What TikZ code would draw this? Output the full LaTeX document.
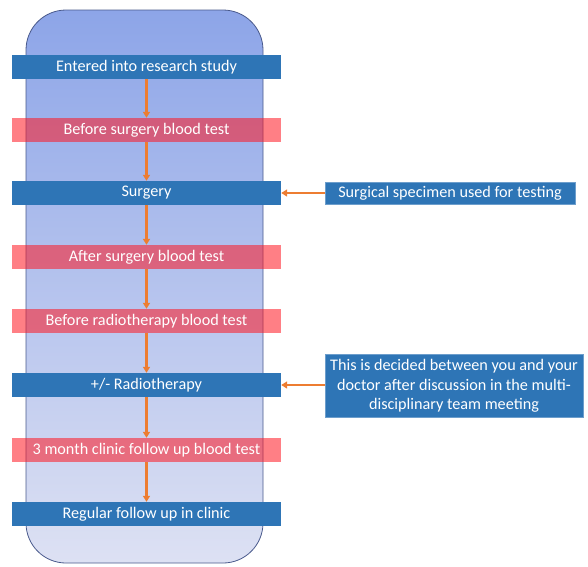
\documentclass[tikz,border=0pt]{standalone}
\usepackage{fontspec}
\setmainfont{Carlito}
\usetikzlibrary{arrows.meta, positioning}
\definecolor{stepblue}{HTML}{2E75B6}
\definecolor{testpink}{HTML}{FF1621}
\definecolor{flowarrow}{HTML}{ED7D31}
\definecolor{pathtop}{HTML}{8DA5E8}
\definecolor{pathbottom}{HTML}{DDE1F3}
\definecolor{pathedge}{HTML}{4A5A8C}

\tikzset{
    stagebox/.style={fill=stepblue, text=white, minimum width=269pt, minimum height=24pt, inner sep=0pt, font=\fontsize{16.2}{18}\selectfont},
    testbox/.style={stagebox, fill=testpink, fill opacity=0.55, text opacity=1},
    notebox/.style={fill=stepblue, text=white, draw=stepblue!70!white, line width=0.6pt, inner sep=1pt, align=center, font=\fontsize{16.2}{18}\selectfont},
    flow/.style={flowarrow, line width=2.2pt, -{Triangle[width=7pt,length=6pt]}}
}

\begin{document}
\begin{tikzpicture}[x=1pt, y=-1pt]
    \useasboundingbox (0,0) rectangle (588,566);
    % patient pathway background
    \draw[pathedge, line width=0.8pt, rounded corners=40pt, top color=pathtop, bottom color=pathbottom] (26,10) rectangle (263,563);
    % stages
    \node[stagebox] (entry) at (146.5,67) {Entered into research study};
    \node[testbox] (pretest) at (146.5,130) {Before surgery blood test};
    \node[stagebox] (surgery) at (146.5,193) {Surgery};
    \node[testbox] (posttest) at (146.5,257) {After surgery blood test};
    \node[testbox] (rttest) at (146.5,321) {Before radiotherapy blood test};
    \node[stagebox] (radio) at (146.5,385) {+/- Radiotherapy};
    \node[testbox] (clinictest) at (146.5,450) {3 month clinic follow up blood test};
    \node[stagebox] (followup) at (146.5,514) {Regular follow up in clinic};
    % side notes
    \node[notebox, minimum width=250pt, minimum height=22pt] (specimen) at (450,193) {Surgical specimen used for testing};
    \node[notebox, minimum width=258pt, minimum height=63pt, font=\fontsize{16.2}{19.5}\selectfont] (decision) at (454,386) {This is decided between you and your\\doctor after discussion in the multi-\\disciplinary team meeting};
    % arrows
    \foreach \a/\b in {entry/pretest, pretest/surgery, surgery/posttest, posttest/rttest, rttest/radio, radio/clinictest, clinictest/followup}
        \draw[flow] (\a) -- (\b);
    \draw[flow] (specimen) -- (surgery);
    \draw[flow] (decision.west |- radio) -- (radio);
\end{tikzpicture}
\end{document}
